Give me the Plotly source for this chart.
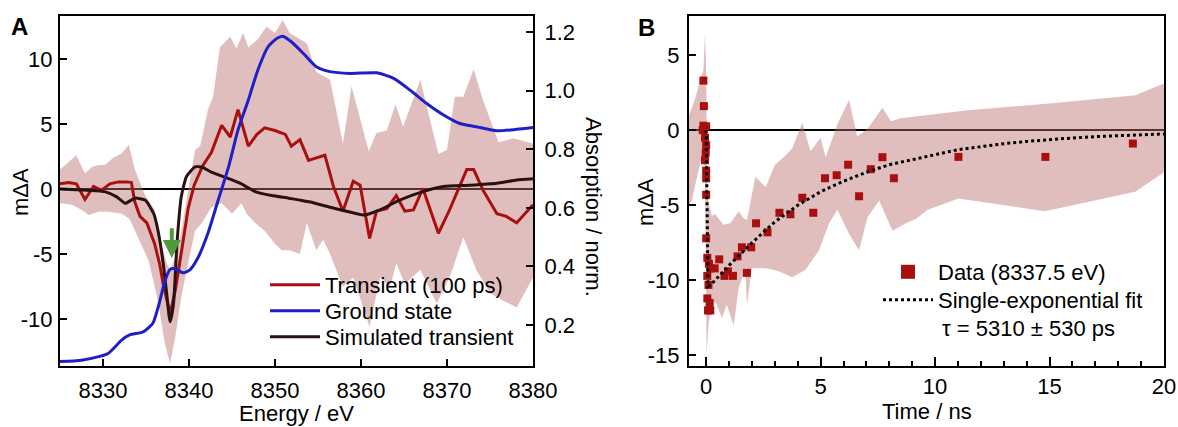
import plotly.graph_objects as go

W, H = 1178, 427

# ---------------- Panel A data ----------------
energy_transient = [8325, 8326, 8326.9, 8327.9, 8328.9, 8329.8, 8330.8, 8331.8, 8332.8, 8333.3, 8333.7,
                    8334.3, 8335.1, 8336.0, 8336.6, 8337.0, 8337.8, 8338.4, 8339.2, 8339.9, 8340.6,
                    8341.6, 8342.6, 8343.8, 8344.8, 8345.7, 8346.9, 8347.9, 8348.8, 8350.0, 8351.2,
                    8351.9, 8352.9, 8353.9, 8354.8, 8355.8, 8356.8, 8357.9, 8359.1, 8359.9, 8361.0,
                    8361.8, 8363.0, 8364.1, 8365.1, 8366.1, 8367.2, 8369.0, 8370.3, 8372.3, 8373.1,
                    8374.2, 8375.8, 8376.9, 8378.1, 8380]
transient = [0.4, 0.5, 0.4, -0.8, 0.2, -0.1, 0.4, 0.55, 0.55, 0.5, -1.0,
             -2.1, -2.6, -4.2, -5.8, -7.3, -9.6, -7.8, -4.5, -1.5, 0.3,
             1.8, 2.8, 4.9, 4.0, 6.1, 3.3, 4.2, 4.7, 4.5, 4.2,
             3.3, 3.8, 2.2, 2.4, 2.6, 0.2, -1.7, 0.6, 0.3, -3.8,
             -1.7, -1.5, -0.5, -1.7, -1.6, 0.05, -3.4, -1.6, 1.5, 1.5,
             -0.1, -1.9, -2.1, -2.6, -1.2]

energy_sim = [8325, 8328.3, 8330.2, 8331.6, 8332.6, 8333.7, 8334.9, 8335.9, 8336.4, 8337.0, 8337.4,
              8337.8, 8338.2, 8338.6, 8339.1, 8339.7, 8340.7, 8341.5, 8342.6, 8344.6, 8346.1,
              8347.7, 8349.6, 8351.6, 8352.9, 8354.1, 8356.4, 8358.3, 8360.3, 8362.2, 8364.5,
              8367.2, 8369.6, 8372.7, 8375.8, 8378.1, 8380]
simulated = [0.0, -0.1, -0.2, -0.6, -1.1, -0.7, -0.85, -1.9, -3.2, -5.7, -8.0,
             -10.2, -8.8, -4.2, -0.6, 0.95, 1.7, 1.7, 1.3, 0.8, 0.4,
             -0.2, -0.5, -0.7, -0.85, -1.0, -1.4, -1.7, -2.0, -1.6, -0.85,
             -0.2, 0.2, 0.3, 0.45, 0.7, 0.8]

energy_gs = [8325, 8327.5, 8329.5, 8330.6, 8332.2, 8333.1, 8334.7, 8335.8, 8336.5, 8337.2, 8337.8,
             8338.4, 8339.3, 8340.1, 8341.1, 8342.2, 8343.4, 8344.6, 8345.7, 8346.9, 8348.0,
             8349.2, 8350.2, 8350.9, 8351.9, 8353.3, 8354.8, 8356.4, 8358.7, 8361.8, 8363.8,
             8365.7, 8367.6, 8369.6, 8371.5, 8373.4, 8375.8, 8378.1, 8380]
ground_state = [0.075, 0.08, 0.092, 0.103, 0.149, 0.166, 0.177, 0.206, 0.27, 0.35, 0.39,
                0.392, 0.378, 0.388, 0.433, 0.513, 0.627, 0.74, 0.866, 0.968, 1.07,
                1.15, 1.178, 1.186, 1.167, 1.127, 1.082, 1.065, 1.059, 1.061, 1.042,
                1.002, 0.957, 0.917, 0.888, 0.877, 0.863, 0.868, 0.874]

energy_band_upper = [8325, 8326.9, 8327.9, 8328.7, 8329.5, 8330.2, 8331.2, 8332.2, 8333.0, 8333.7,
                     8334.9, 8336.0, 8336.8, 8337.4, 8337.8, 8338.6, 8339.3, 8339.9, 8340.7, 8341.3,
                     8342.2, 8342.8, 8343.6, 8344.8, 8345.5, 8346.3, 8346.9, 8348.0, 8349.0, 8350.0,
                     8350.9, 8351.7, 8353.7, 8354.8, 8356.4, 8357.9, 8358.9, 8360.9, 8361.8, 8363.0,
                     8364.0, 8364.9, 8366.9, 8369.0, 8370.0, 8370.9, 8371.9, 8373.1, 8374.2, 8376.0,
                     8377.7, 8380]
band_upper = [1.5, 2.6, 1.2, 1.7, 1.85, 1.85, 2.4, 2.75, 3.4, 1.5,
              -0.5, -1.6, -4.2, -5.7, -6.2, -5.0, -2.5, 0.0, 3.0, 3.3,
              6.1, 7.1, 10.9, 11.7, 10.8, 12.0, 10.9, 11.5, 12.5, 12.0,
              13.0, 12.0, 11.2, 9.0, 8.4, 3.5, 7.9, 2.9, 4.3, 4.5,
              6.5, 4.8, 8.4, 2.7, 3.0, 7.1, 7.1, 9.2, 6.8, 3.6,
              3.9, 3.5]

energy_band_lower = [8325, 8326.4, 8327.5, 8328.3, 8329.5, 8330.6, 8332.2, 8333.1, 8334.1, 8335.3,
                     8336.4, 8337.2, 8337.8, 8338.4, 8339.1, 8339.9, 8340.7, 8341.5, 8342.6, 8343.8,
                     8345.0, 8346.1, 8346.7, 8347.7, 8348.8, 8350.0, 8350.8, 8351.7, 8352.9, 8353.7,
                     8354.8, 8355.6, 8356.4, 8357.9, 8359.1, 8361.0, 8362.2, 8363.4, 8364.1, 8365.1,
                     8366.9, 8368.8, 8370.3, 8371.9, 8373.4, 8375.0, 8376.6, 8378.1, 8380]
band_lower = [-1.1, -1.2, -1.6, -2.0, -1.75, -1.75, -1.9, -2.3, -3.7, -5.5,
              -8.6, -11.9, -13.4, -11.4, -8.3, -5.7, -3.2, -2.6, -1.4, -1.1,
              -1.9, -1.1, -1.9, -2.6, -3.2, -4.2, -4.7, -4.7, -5.0, -2.6,
              -4.7, -3.9, -5.0, -7.5, -6.8, -10.6, -6.8, -7.5, -5.7, -7.3,
              -6.2, -8.8, -6.8, -3.7, -6.2, -8.0, -8.6, -9.1, -6.8]

# ---------------- Panel B data ----------------
time_data = [-0.12, -0.1, -0.12, -0.15, 0.0, -0.05, 0.0, -0.02, -0.05, 0.0, 0.0, 0.0, 0.0,
             0.05, 0.12, 0.2, 0.05, 0.1, 0.05, 0.15, 0.08, 0.18,
             0.37, 0.57, 0.80, 0.95, 1.17, 1.37, 1.56, 1.78, 1.97, 2.18, 2.68, 3.2, 3.68,
             4.2, 4.68, 5.19, 5.7, 6.2, 6.68, 7.19, 7.7, 8.2, 11.02, 14.82, 18.64]
signal_data = [3.3, 1.6, 0.3, 0.0, 0.25, -0.5, -1.0, -1.5, -2.0, -2.7, -3.2, -4.3, -7.2,
               -8.5, -8.9, -9.2, -9.7, -10.3, -11.2, -11.5, -12.0, -12.0,
               -9.2, -8.6, -9.7, -9.4, -9.7, -8.4, -7.8, -9.5, -7.8, -6.2, -6.8, -5.5, -5.6,
               -4.5, -5.5, -3.2, -3.0, -2.3, -4.4, -2.6, -1.8, -3.2, -1.78, -1.78, -0.89]

time_fit = [0.0, 0.03, 0.08, 0.2, 0.5, 1, 2, 3, 4, 5, 6, 7, 8, 9, 10, 11, 12, 13, 14, 15, 16, 17, 18, 19, 20]
fit = [0.0, -5.0, -10.4, -10.3, -9.8, -9.0, -7.5, -6.1, -5.0, -4.1, -3.4, -2.8, -2.3, -1.95,
       -1.6, -1.3, -1.1, -0.9, -0.75, -0.62, -0.52, -0.43, -0.36, -0.3, -0.25]

time_band_upper = [-0.75, -0.5, -0.26, -0.12, -0.05, 0.0, 0.05, 0.1, 0.25, 0.4, 0.6, 0.76, 1.05,
                   1.42, 1.6, 1.78, 2.15, 2.6, 3.0, 3.46, 3.76, 4.2, 4.56, 5.0, 5.22, 5.73, 6.24,
                   6.6, 7.05, 7.7, 8.07, 8.5, 11.43, 15.0, 18.74, 20.0]
band_b_upper = [1.0, 2.0, 3.3, 4.0, 6.5, 4.0, -4.0, -4.8, -5.7, -5.6, -6.0, -6.3, -6.2,
                -5.4, -5.8, -6.0, -3.1, -3.8, -2.3, -1.7, -1.2, 0.5, -1.4, -0.5, -1.8, 0.4, 2.0,
                -0.4, 0.1, 1.5, 0.6, 0.8, 1.33, 1.78, 2.33, 3.1]
time_band_lower = [-0.75, -0.63, -0.34, -0.12, -0.05, 0.02, 0.1, 0.18, 0.4, 0.69, 0.9, 1.2, 1.42,
                   1.71, 1.78, 2.0, 2.6, 3.17, 3.76, 4.34, 4.93, 5.37, 5.73, 6.24, 6.68, 7.05,
                   7.56, 8.14, 8.73, 9.17, 9.68, 11.02, 14.8, 18.74, 20.0]
band_b_lower = [-5.0, -4.7, -2.7, -1.4, -3.0, -15.0, -13.0, -12.1, -11.4, -12.5, -11.6, -13.0, -10.5,
                -9.2, -11.6, -9.2, -9.2, -9.4, -9.8, -9.3, -8.0, -6.2, -5.3, -6.9, -8.0, -5.8,
                -4.7, -6.7, -6.2, -5.9, -5.3, -4.55, -5.4, -4.1, -2.8]

# ---------------- ticks ----------------
a_xticks = [8330, 8340, 8350, 8360, 8370, 8380]
a_xticklabels = ["8330", "8340", "8350", "8360", "8370", "8380"]
a_yticks = [-10, -5, 0, 5, 10]
a_yticklabels = ["-10", "-5", "0", "5", "10"]
a_y2ticks = [0.2, 0.4, 0.6, 0.8, 1.0, 1.2]
a_y2ticklabels = ["0.2", "0.4", "0.6", "0.8", "1.0", "1.2"]
b_xticks = [0, 5, 10, 15, 20]
b_xticklabels = ["0", "5", "10", "15", "20"]
b_yticks = [-15, -10, -5, 0, 5]
b_yticklabels = ["-15", "-10", "-5", "0", "5"]

# ---------------- style ----------------
FONT = "Liberation Sans, Arial, Helvetica, sans-serif"
RED = "#a80f0f"
BLUE = "#1f1fc8"
DARK = "#2a1212"
BAND = "rgba(188,111,111,0.45)"
GREEN = "#4f9b3c"
FS = 22


def px_x(p):
    return p / W


def px_y(p):
    return 1 - p / H


fig = go.Figure()

# Panel A
fig.add_trace(go.Scatter(x=energy_band_upper + energy_band_lower[::-1],
                         y=band_upper + band_lower[::-1],
                         fill="toself", fillcolor=BAND, mode="lines", line=dict(width=0),
                         hoverinfo="skip", showlegend=False, xaxis="x", yaxis="y"))
fig.add_trace(go.Scatter(x=energy_transient, y=transient, mode="lines",
                         line=dict(color=RED, width=3), name="Transient (100 ps)",
                         xaxis="x", yaxis="y", legend="legend"))
fig.add_trace(go.Scatter(x=energy_gs, y=ground_state, mode="lines",
                         line=dict(color=BLUE, width=3, shape="spline", smoothing=0.6),
                         name="Ground state", xaxis="x", yaxis="y2", legend="legend3"))
fig.add_trace(go.Scatter(x=energy_sim, y=simulated, mode="lines",
                         line=dict(color=DARK, width=3, shape="spline", smoothing=0.5),
                         name="Simulated transient", xaxis="x", yaxis="y", legend="legend4"))

# Panel B
fig.add_trace(go.Scatter(x=time_band_upper + time_band_lower[::-1],
                         y=band_b_upper + band_b_lower[::-1],
                         fill="toself", fillcolor=BAND, mode="lines", line=dict(width=0),
                         hoverinfo="skip", showlegend=False, xaxis="x3", yaxis="y3"))
fig.add_trace(go.Scatter(x=time_data, y=signal_data, mode="markers",
                         marker=dict(symbol="square", size=8, color=RED),
                         showlegend=False, xaxis="x3", yaxis="y3"))
fig.add_trace(go.Scatter(x=[None], y=[None], mode="markers",
                         marker=dict(symbol="square", size=14, color=RED),
                         name="Data (8337.5 eV)", xaxis="x3", yaxis="y3", legend="legend2"))
fig.add_trace(go.Scatter(x=time_fit, y=fit, mode="lines",
                         line=dict(color="black", width=3, dash="dot"),
                         name="Single-exponential fit", xaxis="x3", yaxis="y3", legend="legend5"))

ax_common = dict(showline=True, linecolor="black", linewidth=2, ticks="inside",
                 tickcolor="black", tickwidth=2, ticklen=7, showgrid=False, automargin=False,
                 tickfont=dict(size=FS, family=FONT, color="black"), tickmode="array")

ydom = [px_y(366), px_y(16)]


def leg(xp, yp):
    return dict(x=px_x(xp), y=px_y(yp), xanchor="left", yanchor="middle",
                bgcolor="rgba(0,0,0,0)", font=dict(size=FS, family=FONT, color="black"),
                itemwidth=50, borderwidth=0)


fig.update_layout(
    width=W, height=H,
    margin=dict(l=0, r=0, t=0, b=0, pad=0, autoexpand=False),
    paper_bgcolor="white", plot_bgcolor="rgba(0,0,0,0)",
    font=dict(family=FONT, size=FS, color="black"),
    xaxis=dict(ax_common, domain=[px_x(60), px_x(533)], anchor="y", range=[8325, 8380],
               tickvals=a_xticks, ticktext=a_xticklabels, mirror=True, zeroline=False,
               ticklabelstandoff=4),
    yaxis=dict(ax_common, domain=ydom, anchor="x", range=[-13.6, 13.3],
               tickvals=a_yticks, ticktext=a_yticklabels, zeroline=True,
               zerolinecolor="black", zerolinewidth=1.6, ticklabelstandoff=1),
    yaxis2=dict(ax_common, overlaying="y", side="right", anchor="x", range=[0.06, 1.255],
                tickvals=a_y2ticks, ticktext=a_y2ticklabels, zeroline=False,
                ticklabelstandoff=5),
    xaxis3=dict(ax_common, domain=[px_x(689), px_x(1164)], anchor="y3", range=[-0.75, 20],
                tickvals=b_xticks, ticktext=b_xticklabels, mirror=True, zeroline=False,
                ticklen=9, ticklabelstandoff=0,
                minor=dict(dtick=1, tick0=0, ticks="inside", ticklen=5, tickwidth=2,
                           tickcolor="black", showgrid=False)),
    yaxis3=dict(ax_common, domain=ydom, anchor="x3", range=[-15.7, 7.6],
                tickvals=b_yticks, ticktext=b_yticklabels, mirror=True, zeroline=True,
                zerolinecolor="black", zerolinewidth=1.6, ticklabelstandoff=3),
    legend=leg(265, 285),
    legend3=leg(265, 311),
    legend4=leg(265, 337),
    legend2=leg(878, 272),
    legend5=leg(878, 300),
)

annotations = [
    dict(text="<b>A</b>", x=px_x(19), y=px_y(27), xanchor="center", yanchor="middle",
         font=dict(size=24)),
    dict(text="<b>B</b>", x=px_x(646), y=px_y(28), xanchor="center", yanchor="middle",
         font=dict(size=24)),
    dict(text="mΔA", x=px_x(20), y=px_y(192), textangle=-90, xanchor="center", yanchor="middle"),
    dict(text="Absorption / norm.", x=px_x(594), y=px_y(207), textangle=90,
         xanchor="center", yanchor="middle"),
    dict(text="mΔA", x=px_x(645), y=px_y(202), textangle=-90, xanchor="center", yanchor="middle"),
    dict(text="Energy / eV", x=px_x(296), y=px_y(413), xanchor="center", yanchor="middle"),
    dict(text="Time / ns", x=px_x(927), y=px_y(411), xanchor="center", yanchor="middle"),
    dict(text="τ = 5310 ± 530 ps", x=px_x(940), y=px_y(328), xanchor="left", yanchor="middle"),
]
for a in annotations:
    a.update(xref="paper", yref="paper", showarrow=False)
fig.update_layout(annotations=annotations)

# green arrow marking the pre-edge feature
ARROW_E, ARROW_TAIL, ARROW_HEAD = 8338, -2.9, -5.3
fig.add_annotation(x=ARROW_E, y=ARROW_HEAD, ax=ARROW_E, ay=ARROW_TAIL, xref="x", yref="y",
                   axref="x", ayref="y", showarrow=True, arrowhead=2, arrowsize=0.9,
                   arrowwidth=4, arrowcolor=GREEN, text="")

fig.write_html("out.html", config={"displayModeBar": False},
               post_script="document.body.style.margin='0px';document.body.style.overflow='hidden';")
